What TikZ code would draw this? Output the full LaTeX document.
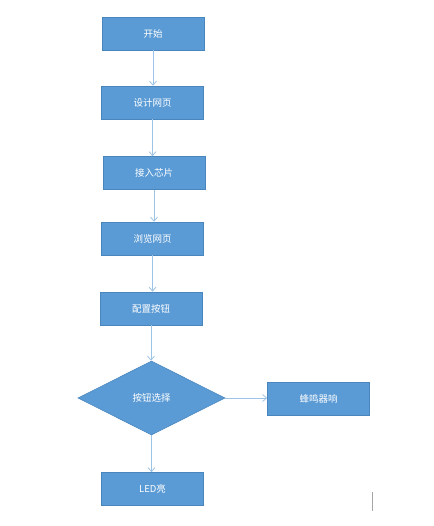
\documentclass[tikz,border=0pt]{standalone}
\usepackage{fontspec}
\newfontfamily\cjk{Noto Sans CJK SC}
\usetikzlibrary{arrows.meta,shapes.geometric}
\definecolor{boxfill}{HTML}{5B9BD5}
\definecolor{boxline}{HTML}{4A86BE}
\definecolor{arrowc}{HTML}{9DC3E6}
\begin{document}
\begin{tikzpicture}[x=1pt,y=-1pt,
  procbox/.style={draw=boxline,fill=boxfill,line width=0.6pt,minimum width=102pt,minimum height=33pt,inner sep=0pt,text=white,font=\cjk\fontsize{9.5pt}{11pt}\selectfont},
  decbox/.style={diamond,draw=boxline,fill=boxfill,line width=0.6pt,minimum width=147pt,minimum height=74pt,inner sep=0pt,aspect=2,text=white,font=\cjk\fontsize{9.5pt}{11pt}\selectfont},
  flow/.style={draw=arrowc,line width=0.8pt,-{Straight Barb[length=4pt,width=7pt]}}]
\useasboundingbox (0,0) rectangle (433,526);
\node[procbox] (start) at (153,33.5) {开始};
\node[procbox] (design) at (152.5,102.5) {设计网页};
\node[procbox] (chip) at (154,173) {接入芯片};
\node[procbox] (browse) at (152.5,238.5) {浏览网页};
\node[procbox] (config) at (151,308.5) {配置按钮};
\node[decbox] (choose) at (151.5,398) {按钮选择};
\node[procbox] (buzz) at (318.5,398.5) {蜂鸣器响};
\node[procbox] (led) at (152.5,489) {LED亮};
\draw[flow] (start.south) -- (start.south |- design.north);
\draw[flow] (design.south) -- (design.south |- chip.north);
\draw[flow] (chip.south) -- (chip.south |- browse.north);
\draw[flow] (browse.south) -- (browse.south |- config.north);
\draw[flow] (config.south) -- (config.south |- choose.north);
\draw[flow] (choose.east) -- (choose.east -| buzz.west);
\draw[flow] (choose.south) -- (choose.south |- led.north);
\coordinate (cura) at (372,492);
\coordinate (curb) at (372,511);
\draw[gray!70,line width=0.8pt] (cura) -- (curb);
\end{tikzpicture}
\end{document}
